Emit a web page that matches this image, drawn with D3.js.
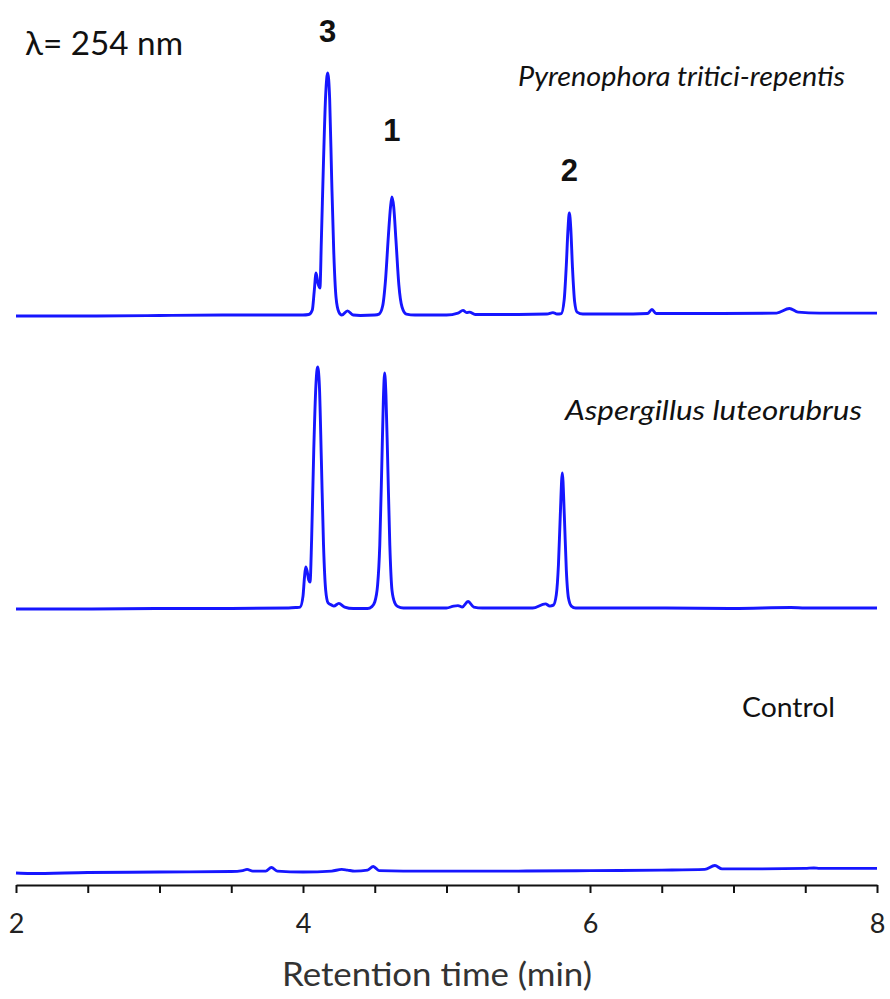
<!DOCTYPE html>
<html>
<head>
<meta charset="utf-8">
<script src="https://cdn.jsdelivr.net/npm/d3@7"></script>
<style>
  html, body { margin: 0; padding: 0; background: #fff; }
  svg { display: block; }
</style>
</head>
<body>
<script>
// HPLC-UV chromatograms (254 nm): retention time (min) vs. absorbance (relative units)
const sampleNames = ["Pyrenophora tritici-repentis", "Aspergillus luteorubrus", "Control"];

const pyrenophora = [
  [2.00,0.0],[2.50,0.0],[3.00,0.2],[3.50,0.4],[3.90,0.4],[4.00,0.4],[4.04,0.6],[4.065,2.5],
  [4.078,10.0],[4.091,17.7],[4.104,13.5],[4.118,11.5],[4.128,31.3],[4.143,64.0],[4.158,91.0],
  [4.172,100.0],[4.186,89.0],[4.200,56.0],[4.214,27.0],[4.230,7.8],[4.250,1.6],[4.270,0.4],
  [4.310,2.1],[4.350,0.4],[4.400,0.2],[4.500,0.4],[4.530,0.8],[4.555,4.1],[4.575,14.8],
  [4.595,33.0],[4.610,44.9],[4.620,49.0],[4.632,45.0],[4.648,31.0],[4.668,12.8],[4.690,3.7],
  [4.720,0.8],[4.780,0.4],[5.000,0.4],[5.080,1.2],[5.115,2.3],[5.140,1.4],[5.160,1.6],
  [5.200,0.6],[5.500,0.6],[5.700,0.8],[5.742,1.4],[5.770,0.8],[5.800,1.0],[5.820,6.6],
  [5.835,21.0],[5.847,36.2],[5.856,42.4],[5.866,36.2],[5.878,19.8],[5.893,5.8],[5.910,1.6],
  [5.950,0.8],[6.300,0.8],[6.400,1.0],[6.432,2.7],[6.460,1.0],[6.800,1.0],[7.300,1.2],
  [7.390,3.1],[7.450,1.6],[7.600,1.2],[8.000,1.2]
];

const aspergillus = [
  [2.00,0.0],[2.50,0.0],[3.00,0.2],[3.50,0.2],[3.90,0.4],[3.95,0.6],[3.98,0.8],[4.000,5.3],
  [4.010,12.8],[4.019,17.3],[4.030,15.2],[4.040,11.9],[4.049,11.1],[4.060,28.4],[4.075,65.4],
  [4.090,92.2],[4.102,99.6],[4.114,92.2],[4.128,61.3],[4.143,26.3],[4.158,7.8],[4.175,2.5],
  [4.200,1.6],[4.215,1.2],[4.250,2.3],[4.290,0.8],[4.350,0.2],[4.450,0.2],[4.480,1.0],
  [4.500,2.9],[4.520,9.9],[4.535,26.3],[4.550,61.3],[4.560,86.0],[4.569,97.1],[4.578,88.0],
  [4.590,61.3],[4.605,26.3],[4.620,7.8],[4.640,2.5],[4.660,1.0],[4.700,0.4],[5.000,0.4],
  [5.050,1.2],[5.080,1.4],[5.110,0.8],[5.150,3.1],[5.190,0.8],[5.250,0.4],[5.600,0.4],
  [5.690,2.1],[5.720,1.2],[5.745,1.6],[5.765,5.8],[5.780,18.1],[5.793,38.7],[5.807,56.0],
  [5.821,38.7],[5.835,16.0],[5.850,4.5],[5.870,1.2],[5.900,0.4],[6.500,0.4],[7.000,0.2],
  [7.400,0.6],[7.500,0.4],[8.000,0.4]
];

const control = [
  [2.00,0.4],[2.10,0.2],[2.50,0.6],[3.00,0.8],[3.50,1.0],[3.58,1.4],[3.61,1.9],[3.65,1.2],
  [3.74,1.2],[3.78,2.7],[3.82,1.2],[4.00,0.8],[4.20,1.2],[4.27,1.9],[4.31,1.6],[4.36,1.2],
  [4.45,1.6],[4.49,3.1],[4.53,1.4],[4.70,1.2],[5.00,1.2],[5.50,1.2],[6.00,1.4],[6.50,1.6],
  [6.80,1.9],[6.87,3.5],[6.92,2.1],[7.20,2.1],[7.50,2.3],[7.56,2.5],[7.60,2.3],[8.00,2.3]
];

// Compound numbers placed above their peaks in the top trace: [label, retention time]
const compoundLabels = [["3", 4.172], ["1", 4.620], ["2", 5.856]];

const xTicks = [2, 2.5, 3, 3.5, 4, 4.5, 5, 5.5, 6, 6.5, 7, 7.5, 8];
const xTickLabels = [2, 4, 6, 8];
const wavelength = "λ= 254 nm";
const xTitle = "Retention time (min)";

// ---- layout ----
const W = 890, H = 999;
const xLeft = 16, xRight = 877, axisY = 885;
const unitPx = 2.43;                       // pixels per absorbance unit (shared by all traces)
const baselines = [316, 609, 874];         // zero line of each stacked trace
const traceColor = "#1616ff";
const sansFont = "Lato, 'Open Sans', sans-serif";

const svg = d3.select("body").append("svg").attr("width", W).attr("height", H);

const x = d3.scaleLinear().domain([2, 8]).range([xLeft, xRight]);
const yScales = baselines.map(b => d3.scaleLinear().domain([0, 100]).range([b, b - 100 * unitPx]));

const traces = [pyrenophora, aspergillus, control];
traces.forEach((data, i) => {
  const line = d3.line()
    .x(d => x(d[0]))
    .y(d => yScales[i](d[1]))
    .curve(d3.curveMonotoneX);
  svg.append("path")
    .datum(data)
    .attr("d", line)
    .attr("fill", "none")
    .attr("stroke", traceColor)
    .attr("stroke-width", 2.9)
    .attr("stroke-linejoin", "round");
});

// x axis
const axis = d3.axisBottom(x)
  .tickValues(xTicks)
  .tickSize(8)
  .tickSizeOuter(0)
  .tickFormat(d => xTickLabels.includes(d) ? d3.format("d")(d) : "");
const gAxis = svg.append("g").attr("transform", `translate(0,${axisY})`).call(axis);
gAxis.select(".domain").attr("stroke", "#111").attr("stroke-width", 2.2);
gAxis.selectAll(".tick line").attr("stroke", "#111").attr("stroke-width", 2);
gAxis.selectAll(".tick text")
  .attr("font-family", sansFont)
  .attr("font-size", 27)
  .attr("fill", "#222")
  .attr("y", 48)
  .attr("dy", null);

// helper: text fitted to a given width
function fittedText(str, opts) {
  const t = svg.append("text")
    .attr("x", opts.x).attr("y", opts.y)
    .attr("text-anchor", opts.anchor || "start")
    .attr("font-family", opts.family || sansFont)
    .attr("font-style", opts.italic ? "italic" : "normal")
    .attr("font-size", opts.size)
    .attr("fill", opts.fill || "#111")
    .text(str);
  if (opts.width) t.attr("textLength", opts.width).attr("lengthAdjust", "spacingAndGlyphs");
  return t;
}

fittedText(xTitle, { x: 282, y: 986, size: 33, fill: "#333", width: 310 });
fittedText(wavelength, { x: 25, y: 55, size: 32, fill: "#111", width: 158 });

// sample names
const nameSpecs = [
  { x: 518, y: 86, italic: true, width: 327 },
  { x: 565, y: 420, italic: true, width: 297 },
  { x: 742, y: 717, italic: false, width: 93 }
];
sampleNames.forEach((n, i) => {
  fittedText(n, { x: nameSpecs[i].x, y: nameSpecs[i].y, size: 27,
                  italic: nameSpecs[i].italic, width: nameSpecs[i].width });
});

// compound numbers
const labelY = { "3": 42, "1": 141, "2": 181 };
compoundLabels.forEach(([lab, t]) => {
  svg.append("text")
    .attr("x", x(t)).attr("y", labelY[lab])
    .attr("text-anchor", "middle")
    .attr("font-family", "'Liberation Sans', Arial, sans-serif")
    .attr("font-weight", "bold")
    .attr("font-size", 31)
    .attr("fill", "#111")
    .text(lab);
});
</script>
</body>
</html>
